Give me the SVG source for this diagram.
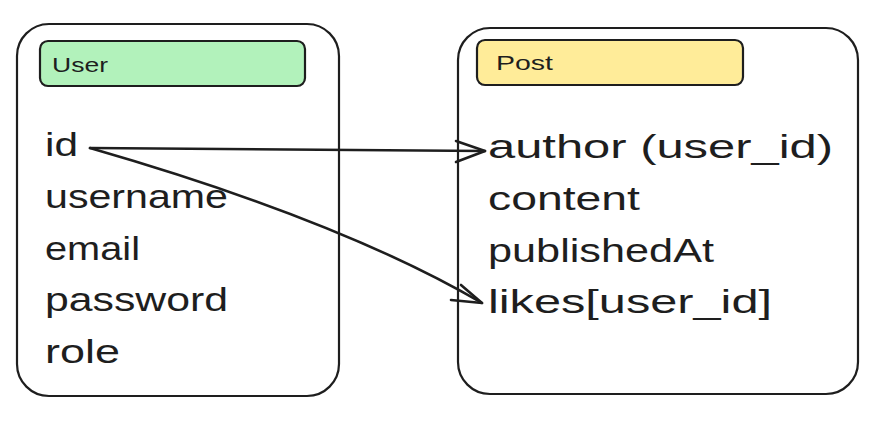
<svg xmlns="http://www.w3.org/2000/svg" width="875" height="441" viewBox="0 0 875 441">
<style>
.box{fill:#ffffff;stroke:#1e1e1e;stroke-width:2.2}
.hdr{stroke:#1e1e1e;stroke-width:2.2}
.t{font-family:"Liberation Sans","DejaVu Sans",sans-serif;fill:#1e1e1e}
.item{font-size:34px}
.head{font-size:20px}
.conn{fill:none;stroke:#1e1e1e;stroke-width:2.6;stroke-linecap:round;stroke-linejoin:round}
</style>
<rect width="875" height="441" fill="#ffffff"/>
<g id="user">
<rect class="box" x="17" y="24" width="322" height="372" rx="32"/>
<rect class="hdr" x="40" y="41" width="265" height="45" rx="8" fill="#b2f2bb"/>
<text class="t head" x="52" y="72" textLength="56" lengthAdjust="spacingAndGlyphs">User</text>
<text class="t item" x="45" y="156" textLength="33" lengthAdjust="spacingAndGlyphs">id</text>
<text class="t item" x="45" y="208" textLength="183" lengthAdjust="spacingAndGlyphs">username</text>
<text class="t item" x="45" y="260" textLength="95" lengthAdjust="spacingAndGlyphs">email</text>
<text class="t item" x="45" y="311" textLength="183" lengthAdjust="spacingAndGlyphs">password</text>
<text class="t item" x="45" y="363" textLength="75" lengthAdjust="spacingAndGlyphs">role</text>
</g>
<g id="post">
<rect class="box" x="458" y="28" width="400" height="366" rx="32"/>
<rect class="hdr" x="477" y="40" width="266" height="45" rx="8" fill="#ffec99"/>
<text class="t head" x="496" y="70" textLength="57" lengthAdjust="spacingAndGlyphs">Post</text>
<text class="t item" x="488" y="158" textLength="345" lengthAdjust="spacingAndGlyphs">author (user_id)</text>
<text class="t item" x="488" y="210" textLength="152" lengthAdjust="spacingAndGlyphs">content</text>
<text class="t item" x="488" y="262" textLength="226" lengthAdjust="spacingAndGlyphs">publishedAt</text>
<text class="t item" x="488" y="313" textLength="284" lengthAdjust="spacingAndGlyphs">likes[user_id]</text>
</g>
<g id="connectors">
<path class="conn" d="M90 148 L485 151"/>
<polyline class="conn" points="456,141 485,151 456,162"/>
<path class="conn" d="M90 148 Q340 220 482 303"/>
<polyline class="conn" points="461,285 482,303 451,300"/>
</g>
</svg>
